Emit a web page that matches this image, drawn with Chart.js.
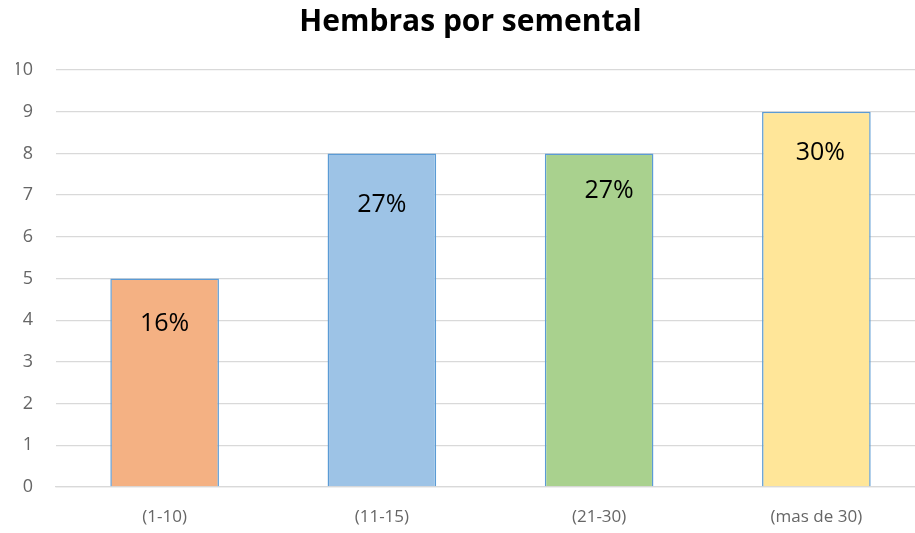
<!DOCTYPE html>
<html>
<head>
<meta charset="utf-8">
<script src="https://cdn.jsdelivr.net/npm/chart.js@4"></script>
<style>
  html, body { margin: 0; padding: 0; background: #fff; overflow: hidden; }
  #wrap { width: 915px; height: 533px; overflow: hidden; }
</style>
</head>
<body>
<div id="wrap"><canvas id="myChart" width="925" height="533"></canvas></div>
<script>
// chart data
let categories = ["(1-10)", "(11-15)", "(21-30)", "(mas de 30)"];
let hembras = [5, 8, 8, 9];
let percentLabels = ["16%", "27%", "27%", "30%"];

// bar colours
let barColors = ["#F4B183", "#9DC3E6", "#A9D18E", "#FFE699"];
// where each % label sits, measured from the bar top (px)
let labelNudge = [[0, 45], [0, 51], [10, 37], [4, 41]];

const fontFamily = "'Open Sans', sans-serif";

// draws the % text inside each bar
const percentPlugin = {
  id: "percentPlugin",
  afterDatasetsDraw(chart) {
    let ctx = chart.ctx;
    let meta = chart.getDatasetMeta(0);
    ctx.save();
    ctx.fillStyle = "#000";
    ctx.font = "25px " + fontFamily;
    ctx.textAlign = "center";
    ctx.textBaseline = "middle";
    meta.data.forEach((bar, i) => {
      ctx.fillText(percentLabels[i], bar.x + labelNudge[i][0], bar.y + labelNudge[i][1]);
    });
    ctx.restore();
  }
};

let ctx = document.getElementById("myChart").getContext("2d");

let myChart = new Chart(ctx, {
  type: "bar",
  data: {
    labels: categories,
    datasets: [{
      data: hembras,
      backgroundColor: barColors,
      borderColor: "#5B9BD5",
      borderWidth: 1.5,
      categoryPercentage: 1,
      barPercentage: 0.5
    }]
  },
  options: {
    responsive: false,
    animation: false,
    layout: { padding: { left: 16, right: 0, top: 0, bottom: 0 } },
    plugins: {
      legend: { display: false },
      tooltip: { enabled: false },
      title: {
        display: true,
        text: "Hembras por semental",
        color: "#000",
        font: { family: fontFamily, size: 30, weight: "bold" },
        padding: { top: 4, bottom: 30 }
      }
    },
    scales: {
      x: {
        grid: { display: false, drawTicks: false },
        border: { display: true, color: "#d9d9d9", width: 1.3 },
        ticks: {
          color: "#666",
          padding: 20,
          font: { family: fontFamily, size: 17 }
        },
        afterFit(scale) { scale.height = 46; }
      },
      y: {
        min: 0,
        max: 10,
        ticks: {
          stepSize: 1,
          color: "#666",
          padding: 23,
          font: { family: fontFamily, size: 18 }
        },
        grid: { color: "#d9d9d9", lineWidth: 1.3, drawTicks: false },
        border: { display: false },
        afterFit(scale) { scale.width = 40; }
      }
    }
  },
  plugins: [percentPlugin]
});
</script>
</body>
</html>
